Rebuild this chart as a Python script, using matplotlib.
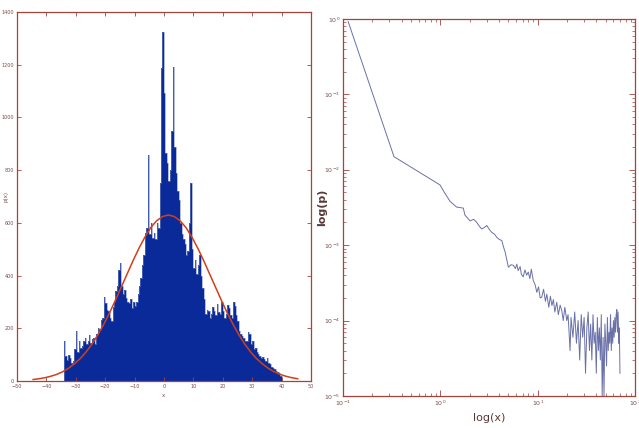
import matplotlib
matplotlib.use("agg")
import matplotlib.pyplot as plt
import numpy as np

# histogram bin heights, 0.5 wide bins starting at x = -34
hist_start = -34.0
hist_width = 0.5
hist_vals = [150, 95, 80, 100, 88, 70, 75, 120, 190, 110,
             150, 125, 133, 150, 164, 140, 150, 175, 145, 160,
             164, 140, 177, 200, 196, 230, 240, 320, 297, 270,
             265, 240, 227, 280, 303, 340, 360, 420, 449, 360,
             329, 345, 316, 300, 297, 310, 278, 300, 285, 300,
             329, 360, 392, 440, 480, 560, 582, 857, 556, 600,
             544, 560, 537, 600, 582, 751, 1187, 1324, 1093, 865,
             827, 760, 800, 950, 1191, 888, 789, 720, 687, 600,
             556, 540, 518, 480, 493, 600, 751, 500, 430, 460,
             405, 440, 480, 400, 354, 310, 253, 270, 265, 240,
             253, 280, 265, 250, 291, 260, 253, 300, 265, 240,
             253, 290, 278, 250, 240, 300, 285, 250, 227, 190,
             177, 170, 164, 150, 152, 185, 177, 140, 152, 120,
             126, 110, 101, 95, 88, 92, 82, 75, 88, 70,
             63, 55, 50, 45, 38, 35, 32, 19]

# fitted normal curve
fit_x = [-44.5, -42.5, -40.5, -38.5, -36.5, -34.5, -32.5, -30.5, -28.5, -26.5,
         -24.5, -22.5, -20.5, -18.5, -16.5, -14.5, -12.5, -10.5, -8.5, -6.5,
         -4.5, -2.5, -0.5, 1.5, 3.5, 5.5, 7.5, 9.5, 11.5, 13.5,
         15.5, 17.5, 19.5, 21.5, 23.5, 25.5, 27.5, 29.5, 31.5, 33.5,
         35.5, 37.5, 39.5, 41.5, 43.5, 45.5]
fit_y = [5.7, 8.6, 12.5, 18, 25, 35, 48, 65, 85, 110,
         140, 175, 215, 259, 307, 357, 407, 457, 504, 546,
         582, 608, 624, 630, 624, 608, 582, 546, 504, 457,
         407, 357, 307, 259, 215, 175, 140, 110, 85, 65,
         48, 35, 25, 18, 12.5, 8.6]

# log-log curve
lx = [0.113, 0.334, 0.99, 1.1, 1.26, 1.47, 1.72, 1.79, 2.02, 2.2,
      2.37, 2.5, 2.66, 2.8, 3.0, 3.2, 3.37, 3.6, 3.8, 4.0,
      4.28, 4.45, 4.63, 5.0, 5.3, 5.63, 5.9, 6.1, 6.3, 6.6,
      6.8, 7.1, 7.4, 7.7, 8.0, 8.3, 8.6, 9.0, 9.4, 9.8,
      10.2, 10.6, 11.0, 11.5, 12.0, 12.4, 13, 13.5, 14, 14.5,
      15, 15.7, 16.3, 17, 17.7, 18.3, 19, 19.9, 20.5, 21,
      21.5, 22, 23, 24, 25, 26, 27, 28, 29, 30,
      31, 32, 33, 34, 35, 36, 37, 38, 39, 40,
      41, 42, 43, 44, 45, 46, 47, 48, 49, 50,
      51, 52, 53, 54, 55, 56, 57, 58, 59, 60,
      61, 62, 63, 64, 65, 66, 67, 68, 69, 70]
lp = [0.92, 0.0149, 0.0063, 0.0050, 0.0038, 0.0032, 0.0031, 0.0025, 0.0021, 0.0022,
      0.0020, 0.0018, 0.00164, 0.0017, 0.00182, 0.0016, 0.00148, 0.0014, 0.00127, 0.0012,
      0.00115, 0.00095, 0.00081, 0.00051, 0.00055, 0.00054, 0.00049, 0.00056, 0.00046, 0.00052,
      0.00041, 0.00038, 0.00047, 0.00040, 0.00044, 0.00036, 0.00048, 0.00034, 0.00030, 0.000237,
      0.00028, 0.00020, 0.000204, 0.00026, 0.00018, 0.000224, 0.00015, 0.00021, 0.000158, 0.00019,
      0.00013, 0.000175, 0.00012, 0.00016, 0.000134, 0.00010, 0.00015, 0.0001, 0.00012, 7e-5,
      4e-5, 1.1e-4, 6e-5, 1.3e-4, 5e-5, 1.0e-4, 3e-5, 1.2e-4, 6e-5, 1.1e-4,
      2e-5, 8e-5, 1.3e-4, 4e-5, 9e-5, 3e-5, 1.2e-4, 5e-5, 7e-5, 2e-5,
      1.1e-4, 4e-5, 8e-5, 3e-5, 1.2e-4, 1e-5, 6e-5, 1e-5, 9e-5, 5e-5,
      2.5e-5, 1.1e-4, 4e-5, 7e-5, 5e-5, 1.2e-4, 4e-5, 8e-5, 5e-5, 1.0e-4,
      6e-5, 1.1e-4, 7e-5, 1.2e-4, 1.4e-4, 7e-5, 1.3e-4, 5e-5, 8e-5, 2e-5]

frame = '#a0443c'
tickc = '#7a4a4a'

fig = plt.figure(figsize=(6.39, 4.28), dpi=100)

# left: histogram
ax1 = fig.add_axes([0.0266, 0.1098, 0.46, 0.862])
edges = hist_start + hist_width * np.arange(len(hist_vals) + 1)
ax1.stairs(hist_vals, edges, fill=True, color='#0b2a9a')
ax1.stairs(hist_vals, edges, color='#7486c0', lw=0.4)
ax1.plot(fit_x, fit_y, color='#d0401a', lw=1.1)
ax1.set_xlim(-50, 50)
ax1.set_ylim(0, 1400)
ax1.set_xticks(np.arange(-50, 51, 10))
ax1.set_yticks(np.arange(0, 1401, 200))
ax1.tick_params(direction='in', top=True, right=True, labelsize=3.5,
                colors=frame, labelcolor=tickc, length=3, width=0.6, pad=2)
for s in ax1.spines.values():
    s.set_color(frame)
    s.set_linewidth(0.9)
ax1.set_ylabel('p(x)', fontsize=4, color=tickc)
ax1.yaxis.set_label_coords(-0.028, 0.5)
ax1.set_xlabel('x', fontsize=4, color=tickc, labelpad=3)

# right: log-log
ax2 = fig.add_axes([0.5368, 0.0748, 0.457, 0.881])
ax2.loglog(lx, lp, color='#6a70a8', lw=0.7)
ax2.set_xlim(0.1, 100)
ax2.set_ylim(1e-5, 1)
ax2.tick_params(which='both', direction='in', top=True, right=True,
                colors=frame, labelcolor=tickc, labelsize=4.5, pad=2)
ax2.tick_params(which='major', length=4, width=0.6)
ax2.tick_params(which='minor', length=2, width=0.5)
for s in ax2.spines.values():
    s.set_color(frame)
    s.set_linewidth(0.9)
ax2.set_ylabel('log(p)', fontsize=8, fontweight='bold', color='#5a3838')
ax2.yaxis.set_label_coords(-0.055, 0.5)
ax2.set_xlabel('log(x)', fontsize=8, color='#5a3838')
ax2.xaxis.set_label_coords(0.5, -0.045)

plt.savefig('out.png', dpi=100)
plt.close()
